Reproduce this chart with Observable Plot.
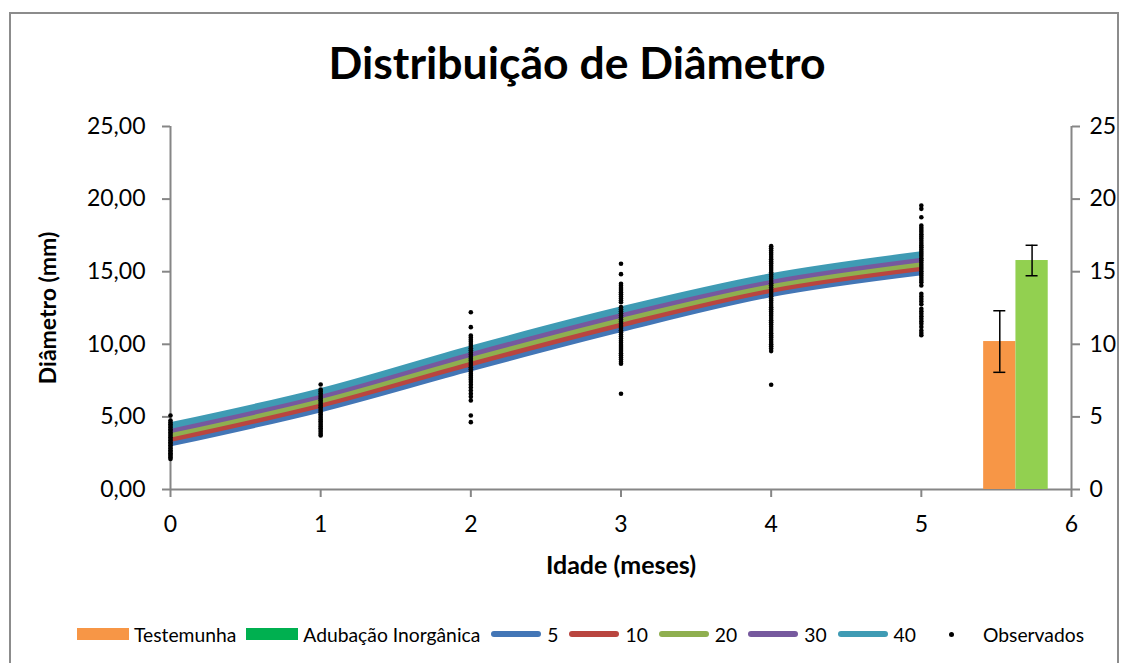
<!DOCTYPE html>
<html>
<head>
<meta charset="utf-8">
<script src="https://cdn.jsdelivr.net/npm/d3@7"></script>
<script src="https://cdn.jsdelivr.net/npm/@observablehq/plot@0.6"></script>
<style>
  html, body { margin: 0; padding: 0; background: #fff; }
  body { width: 1127px; height: 663px; position: relative; overflow: hidden; font-family: Lato, "Open Sans", sans-serif; }
  #frame { position: absolute; left: 9px; top: 12px; width: 1110px; height: 660px; border: 2px solid #8c8c8c; box-sizing: border-box; }
  #title { position: absolute; left: 0; width: 1154px; top: 35px; text-align: center; font-weight: 700; font-size: 44.5px; color: #000; line-height: normal; }
  #chart { position: absolute; left: 0; top: 100px; }
  #legend { position: absolute; left: 77px; top: 622px; display: flex; align-items: center; gap: 10px; font-size: 19.3px; height: 24px; }
  .item { display: flex; align-items: center; gap: 5px; }
  .sw { width: 52px; display: flex; align-items: center; justify-content: center; }
</style>
</head>
<body>
<div id="frame"></div>
<div id="title"></div>
<div id="chart"></div>
<div id="legend"></div>
<script>
// ---- data ----
const titleText = "Distribuição de Diâmetro";
const xLabel = "Idade (meses)";
const yLabel = "Diâmetro (mm)";

const ages = [0, 1, 2, 3, 4, 5];
const seriesNames = ["5", "10", "20", "30", "40"];
const s5  = [3.19, 5.54, 8.37, 11.06, 13.47, 14.97];
const s10 = [3.50, 5.85, 8.70, 11.39, 13.77, 15.27];
const s20 = [3.80, 6.15, 9.03, 11.72, 14.07, 15.57];
const s30 = [4.11, 6.46, 9.36, 12.05, 14.37, 15.88];
const s40 = [4.41, 6.76, 9.69, 12.38, 14.67, 16.18];
const seriesColors = ["#4376B6", "#B9453F", "#8FAF4F", "#76599E", "#3F9BB4"];

const obs0 = [5.1, 4.75, 4.62, 4.5, 4.38, 4.27, 4.15, 4.05, 3.93, 3.82, 3.7, 3.6, 3.48, 3.37, 3.26, 3.15, 3.04, 2.93, 2.82, 2.71, 2.6, 2.5, 2.4, 2.3, 2.2, 2.1];
const obs1 = [7.23, 6.89, 6.76, 6.63, 6.5, 6.38, 6.26, 6.14, 6.02, 5.9, 5.78, 5.66, 5.54, 5.42, 5.3, 5.18, 5.06, 4.94, 4.82, 4.7, 4.58, 4.46, 4.34, 4.22, 4.1, 3.97, 3.84, 3.72];
const obs2 = [12.21, 11.18, 10.6, 10.46, 10.31, 10.17, 10.02, 9.88, 9.73, 9.59, 9.44, 9.3, 9.15, 9.0, 8.86, 8.71, 8.57, 8.42, 8.28, 8.13, 7.98, 7.84, 7.7, 7.55, 7.4, 7.22, 7.02, 6.81, 6.6, 6.38, 6.13, 5.1, 4.64];
const obs3 = [15.55, 14.83, 14.17, 14.03, 13.88, 13.74, 13.59, 13.45, 13.3, 13.16, 13.01, 12.9, 12.56, 12.42, 12.27, 12.13, 11.98, 11.84, 11.7, 11.55, 11.41, 11.26, 11.12, 10.97, 10.83, 10.68, 10.54, 10.4, 10.25, 10.1, 9.96, 9.82, 9.67, 9.53, 9.38, 9.24, 9.09, 8.95, 8.8, 8.66, 6.59];
const obs4 = [16.76, 16.61, 16.46, 16.31, 16.16, 16.01, 15.86, 15.71, 15.56, 15.41, 15.26, 15.11, 14.96, 14.81, 14.66, 14.51, 14.36, 14.21, 14.06, 13.91, 13.76, 13.61, 13.46, 13.31, 13.16, 13.01, 12.86, 12.71, 12.56, 12.41, 12.26, 12.11, 11.96, 11.81, 11.66, 11.51, 11.36, 11.21, 11.06, 10.91, 10.76, 10.61, 10.46, 10.31, 10.16, 10.01, 9.86, 9.71, 9.53, 7.21];
const obs5 = [19.56, 19.33, 18.75, 18.18, 18.03, 17.88, 17.73, 17.58, 17.43, 17.28, 17.13, 16.98, 16.83, 16.68, 16.53, 16.38, 16.23, 16.08, 15.93, 15.78, 15.63, 15.48, 15.33, 15.18, 15.03, 14.88, 14.73, 14.58, 14.43, 14.28, 14.05, 13.48, 13.3, 13.12, 12.94, 12.76, 12.44, 12.27, 12.1, 11.93, 11.76, 11.59, 11.42, 11.2, 10.95, 10.78, 10.62];

const treatments = ["Testemunha", "Adubação Inorgânica"];
const barMeans = [10.19, 15.77];
const barErrors = [2.12, 1.05];
const barColors = ["#F79646", "#92D050"];
const legendBarColors = ["#F79646", "#00B050"];
const observedLabel = "Observados";

const xTicks = [0, 1, 2, 3, 4, 5, 6];
const yTicks = [0, 5, 10, 15, 20, 25];

// ---- build tables ----
const seriesValues = [s5, s10, s20, s30, s40];
const lineData = seriesNames.flatMap((name, i) => ages.map((a, j) => ({series: name, age: a, value: seriesValues[i][j]})));
const obsLists = [obs0, obs1, obs2, obs3, obs4, obs5];
const obsData = obsLists.flatMap((list, i) => list.map(v => ({age: ages[i], value: v})));

// bar layout (secondary axis column cluster)
const groupCenter = 5.63, barWidth = 0.215, capHalf = 0.04;
const barData = treatments.map((t, i) => {
  const c = groupCenter + (i - (treatments.length - 1) / 2) * barWidth;
  return {name: t, c, x1: c - barWidth / 2, x2: c + barWidth / 2, mean: barMeans[i], err: barErrors[i], color: barColors[i]};
});
const capData = barData.flatMap(d => [{c: d.c, y: d.mean - d.err}, {c: d.c, y: d.mean + d.err}]);

const axisGray = "#868686";
const fmtLeft = d => d.toFixed(2).replace(".", ",");

const chart = Plot.plot({
  width: 1127,
  height: 500,
  marginTop: 26,
  marginBottom: 111,
  marginLeft: 170,
  marginRight: 56,
  style: {fontFamily: "Lato, 'Open Sans', sans-serif", fontSize: "23px", color: "#000", background: "transparent"},
  x: {domain: [0, 6]},
  y: {domain: [0, 25]},
  color: {domain: seriesNames, range: seriesColors},
  marks: [
    Plot.ruleX([0, 6], {stroke: axisGray, strokeWidth: 2}),
    Plot.ruleY([0], {stroke: axisGray, strokeWidth: 2}),
    Plot.axisX({ticks: xTicks, tickSize: 8, tickPadding: 18, stroke: axisGray, fill: "#000", strokeWidth: 2, label: null, tickFormat: d => String(d), fontSize: 23}),
    Plot.axisY({anchor: "left", ticks: yTicks, tickSize: 8, tickPadding: 17, stroke: axisGray, fill: "#000", strokeWidth: 2, label: null, tickFormat: fmtLeft, fontSize: 23}),
    Plot.axisY({anchor: "right", ticks: yTicks, tickSize: 8, tickPadding: 10, stroke: axisGray, fill: "#000", strokeWidth: 2, label: null, tickFormat: d => String(d), fontSize: 23}),
    Plot.rect(barData, {x1: "x1", x2: "x2", y1: 0, y2: "mean", fill: "color"}),
    Plot.ruleX(barData, {x: "c", y1: d => d.mean - d.err, y2: d => d.mean + d.err, stroke: "#000", strokeWidth: 1.5}),
    Plot.ruleY(capData, {y: "y", x1: d => d.c - capHalf, x2: d => d.c + capHalf, stroke: "#000", strokeWidth: 1.5}),
    Plot.line(lineData, {x: "age", y: "value", z: "series", stroke: "series", strokeWidth: 6.5, curve: "catmull-rom", strokeLinecap: "butt"}),
    Plot.dot(obsData, {x: "age", y: "value", r: 2.3, fill: "#000", stroke: null}),
    Plot.text([yLabel], {text: d => d, frameAnchor: "left", textAnchor: "middle", rotate: -90, dx: -122, fontWeight: "bold", fontSize: 23, fill: "#000"}),
    Plot.text([xLabel], {text: d => d, frameAnchor: "bottom", textAnchor: "middle", lineAnchor: "middle", dy: 76, fontWeight: "bold", fontSize: 25, fill: "#000"})
  ]
});
document.getElementById("chart").appendChild(chart);
document.getElementById("title").textContent = titleText;

// ---- legend ----
const legend = document.getElementById("legend");
function addItem(swatchHTML, label) {
  const it = document.createElement("div");
  it.className = "item";
  const sw = document.createElement("div");
  sw.className = "sw";
  sw.innerHTML = swatchHTML;
  const tx = document.createElement("span");
  tx.textContent = label;
  it.appendChild(sw); it.appendChild(tx);
  legend.appendChild(it);
}
treatments.forEach((t, i) => addItem(`<div style="width:52px;height:12px;background:${legendBarColors[i]}"></div>`, t));
seriesNames.forEach((n, i) => addItem(`<div style="width:50px;height:6px;border-radius:3px;background:${seriesColors[i]}"></div>`, n));
addItem(`<div style="width:5px;height:5px;border-radius:50%;background:#000"></div>`, observedLabel);
</script>
</body>
</html>
